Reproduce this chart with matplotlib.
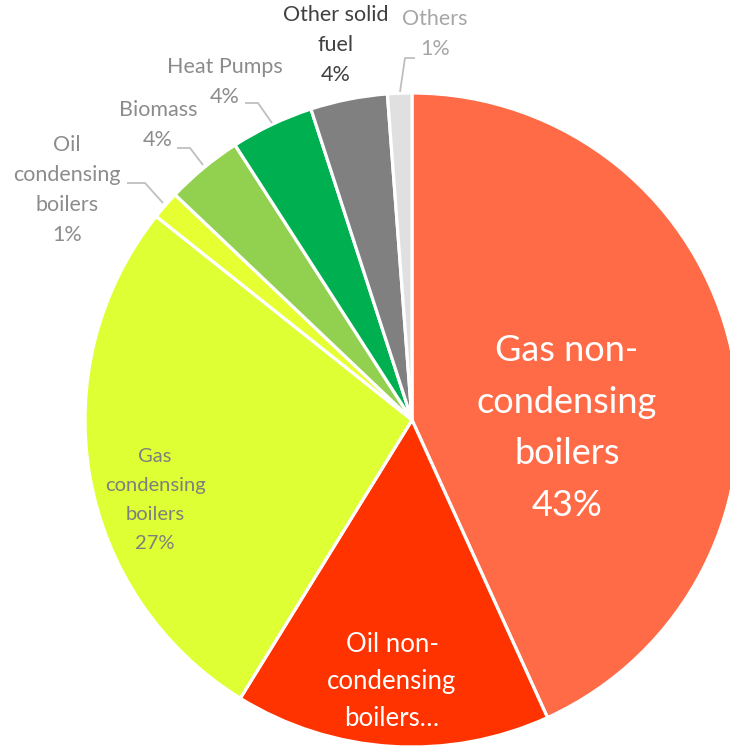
import matplotlib
matplotlib.use("Agg")
import matplotlib.pyplot as plt
import numpy as np

categories = ["Gas non-condensing boilers", "Oil non-condensing boilers", "Gas condensing boilers",
              "Oil condensing boilers", "Biomass", "Heat Pumps", "Other solid fuel", "Others"]
values = [43.2, 15.6, 26.9, 1.4, 3.8, 4.1, 3.8, 1.2]
colors = ["#FF6B47", "#FF3300", "#DDFF33", "#E5FF33", "#92D050", "#00B050", "#808080", "#E0E0E0"]
labels_txt = ["Gas non-\ncondensing\nboilers\n43%", "Oil non-\ncondensing\nboilers…", "Gas\ncondensing\nboilers\n27%",
              "Oil\ncondensing\nboilers\n1%", "Biomass\n4%", "Heat Pumps\n4%", "Other solid\nfuel\n4%", "Others\n1%"]

plt.rcParams['font.family'] = ['Lato', 'DejaVu Sans']
W, H = 730, 753
fig = plt.figure(figsize=(W/100, H/100), dpi=100)
ax = fig.add_axes([0, 0, 1, 1])
cx, cy, R = 412, H - 420, 327
wedges, _ = ax.pie(values, colors=colors, startangle=90, counterclock=False, radius=R, center=(cx, cy),
                   wedgeprops=dict(edgecolor="white", linewidth=2.3), frame=True)
ax.set_xlim(0, W)
ax.set_ylim(0, H)
ax.set_aspect('equal')
ax.axis('off')

def P(x, y):
    return (x, H - y)

# inside labels
ax.text(*P(567, 428), labels_txt[0], color="white", fontsize=26, ha="center", va="center", linespacing=1.7)
ax.text(*P(392, 682), labels_txt[1], color="white", fontsize=18.5, ha="center", va="center", linespacing=1.6)
ax.text(*P(155, 500), labels_txt[2], color="#7F7F7F", fontsize=14.5, ha="center", va="center", linespacing=1.88)

# outside labels with leader lines
gray = "#8C8C8C"
def outside(i, txt_xy, pts, color, lc="#BFBFBF"):
    ax.text(*P(*txt_xy), labels_txt[i], color=color, fontsize=15.5, ha="center", va="center", linespacing=1.62)
    xs = [p[0] for p in pts]; ys = [H - p[1] for p in pts]
    ax.plot(xs, ys, color=lc, lw=1.3, solid_capstyle="butt")

outside(3, (67, 190), [(163, 203), (145, 183), (127, 183)], gray)
outside(4, (158, 125), [(203, 165), (190, 148), (177, 148)], gray)
outside(5, (225, 82), [(272, 123), (258, 103), (245, 103)], gray)
outside(6, (336, 45), [], "#404040")
outside(7, (435, 34), [(400, 92), (405, 58), (415, 58)], "#A6A6A6")

fig.savefig("out.png", dpi=100)
